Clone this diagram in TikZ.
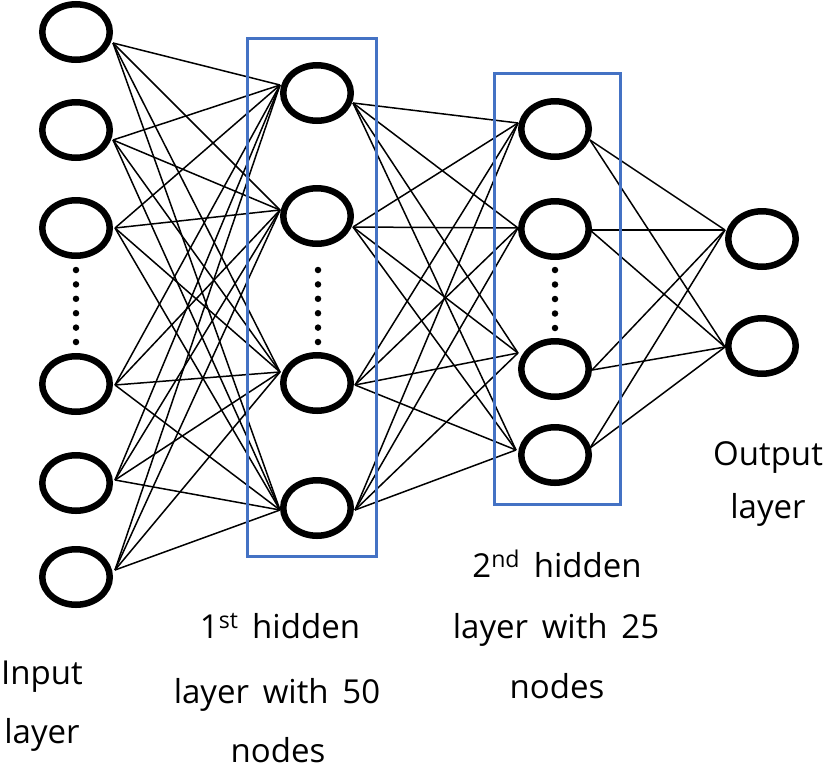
\documentclass[tikz,border=0pt]{standalone}
\usepackage{fontspec}
\setmainfont[WordSpace=1.6]{Open Sans}
\usetikzlibrary{shapes.geometric}
\pgfdeclarelayer{background}
\pgfsetlayers{background,main}
\definecolor{boxblue}{RGB}{68,114,196}
\begin{document}
\begin{tikzpicture}[x=1pt,y=-1pt,
  neuron/.style={draw=black,line width=6.5pt,fill=white,ellipse,minimum width=67.5pt,minimum height=55.5pt,inner sep=0pt},
  link/.style={draw=black,line width=1.5pt},
  layerbox/.style={draw=boxblue,line width=3pt},
  lbl/.style={anchor=base,inner sep=0pt,font=\fontsize{33}{40}\selectfont},
  dotmark/.style={fill=black,circle,inner sep=0pt,minimum size=6.5pt}
]
\useasboundingbox (0,0) rectangle (827,766);
% input layer
\node[neuron] (i1) at (76,32) {};
\node[neuron] (i2) at (76,130) {};
\node[neuron] (i3) at (76,228) {};
\node[neuron] (i4) at (76,384) {};
\node[neuron] (i5) at (76,483) {};
\node[neuron] (i6) at (76,577) {};
% hidden 1
\node[neuron] (a1) at (317,93) {};
\node[neuron] (a2) at (317,216) {};
\node[neuron] (a3) at (317,383) {};
\node[neuron] (a4) at (317,508) {};
% hidden 2
\node[neuron] (b1) at (555,129) {};
\node[neuron] (b2) at (555,229) {};
\node[neuron] (b3) at (555,369) {};
\node[neuron] (b4) at (555,455) {};
% output
\node[neuron] (o1) at (762,239) {};
\node[neuron] (o2) at (762,346) {};
% ports
\coordinate (i1o) at (113,43);
\coordinate (i2o) at (113,140);
\coordinate (i3o) at (115,228);
\coordinate (i4o) at (115,385);
\coordinate (i5o) at (115,480);
\coordinate (i6o) at (115,570);
\coordinate (a1i) at (280,85);
\coordinate (a2i) at (280,210);
\coordinate (a3i) at (280,372);
\coordinate (a4i) at (280,510);
\coordinate (a1o) at (353,103);
\coordinate (a2o) at (353,227);
\coordinate (a3o) at (355,385);
\coordinate (a4o) at (355,510);
\coordinate (b1i) at (518,123);
\coordinate (b2i) at (518,228);
\coordinate (b3i) at (518,353);
\coordinate (b4i) at (516,450);
\coordinate (b1o) at (590,140);
\coordinate (b2o) at (590,230);
\coordinate (b3o) at (592,370);
\coordinate (b4o) at (590,448);
\coordinate (o1i) at (725,230);
\coordinate (o2i) at (725,347);
\begin{pgfonlayer}{background}
\foreach \s in {1,...,6}{\foreach \t in {1,...,4}{\draw[link] (i\s o) -- (a\t i);}}
\foreach \s in {1,...,4}{\foreach \t in {1,...,4}{\draw[link] (a\s o) -- (b\t i);}}
\foreach \s in {1,...,4}{\foreach \t in {1,2}{\draw[link] (b\s o) -- (o\t i);}}
\end{pgfonlayer}
% dots
\foreach \k in {0,...,5}{\node[dotmark] (di\k) at (76,270+14.4*\k) {};}
\foreach \k in {0,...,5}{\node[dotmark] (da\k) at (318,270+14.4*\k) {};}
\foreach \k in {0,...,4}{\node[dotmark] (db\k) at (555,270+14.5*\k) {};}
% boxes
\node[layerbox,minimum width=129pt,minimum height=518pt,inner sep=0pt] (box1) at (311.5,297) {};
\node[layerbox,minimum width=126pt,minimum height=431pt,inner sep=0pt] (box2) at (557,288.5) {};
% labels
\node[lbl] (inl1) at (42,684) {Input};
\node[lbl] (inl2) at (42,743) {layer};
\node[lbl] (h1l1) at (280,638) {1\textsuperscript{st} hidden};
\node[lbl] (h1l2) at (277,703) {layer with 50};
\node[lbl] (h1l3) at (278,762) {nodes};
\node[lbl] (h2l1) at (557,577) {2\textsuperscript{nd} hidden};
\node[lbl] (h2l2) at (556,638) {layer with 25};
\node[lbl] (h2l3) at (557,698) {nodes};
\node[lbl] (oul1) at (768,465) {Output};
\node[lbl] (oul2) at (768,518) {layer};
\end{tikzpicture}
\end{document}
